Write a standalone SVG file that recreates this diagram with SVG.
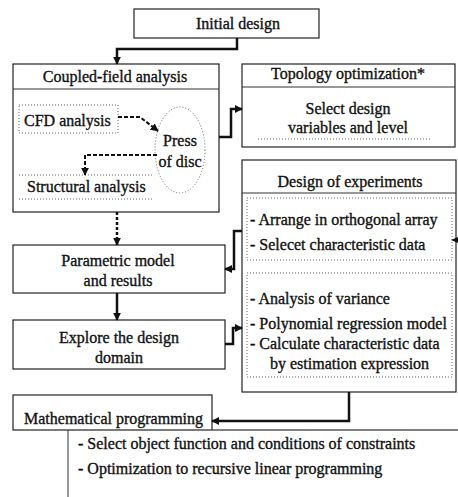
<svg xmlns="http://www.w3.org/2000/svg" width="458" height="497" viewBox="0 0 458 497">
<style>
text{font-family:"Liberation Serif","Times New Roman",serif;font-size:16px;fill:#111;stroke:#111;stroke-width:0.35}
.box{fill:#fff;stroke:#222;stroke-width:1.2}
.thin{fill:none;stroke:#333;stroke-width:1}
.dot{fill:none;stroke:#666;stroke-width:1;stroke-dasharray:1 2}
.conn{fill:none;stroke:#111;stroke-width:2.5}
.dash{fill:none;stroke:#111;stroke-width:2;stroke-dasharray:4 2}
.dotc{fill:none;stroke:#111;stroke-width:2.5;stroke-dasharray:3 2}
.gray{fill:none;stroke:#555;stroke-width:1.3}
.mid{text-anchor:middle}
</style>
<defs>
<marker id="ah" viewBox="0 0 10 10" refX="9" refY="5" markerWidth="8" markerHeight="8" markerUnits="userSpaceOnUse" orient="auto">
<path d="M0,0 L10,5 L0,10 z" fill="#111"/>
</marker>
</defs>

<g id="initial">
<rect class="box" x="134" y="9" width="185" height="29"/>
<text x="196" y="29">Initial design</text>
</g>

<g id="coupled">
<rect class="box" x="13" y="64" width="206" height="148"/>
<line class="thin" x1="13" y1="89" x2="219" y2="89"/>
<text class="mid" x="115" y="82">Coupled-field analysis</text>
<rect class="dot" x="19" y="105" width="99" height="28"/>
<text x="24" y="126">CFD analysis</text>
<ellipse class="dot" cx="180" cy="150" rx="25" ry="43"/>
<text class="mid" x="180" y="146">Press</text>
<text class="mid" x="180" y="167">of disc</text>
<line class="dot" x1="19" y1="175" x2="152" y2="175"/>
<text x="27" y="192">Structural analysis</text>
<line class="dot" x1="19" y1="199" x2="152" y2="199"/>
</g>

<g id="topology">
<rect class="box" x="242" y="64" width="213" height="83"/>
<line class="thin" x1="242" y1="87" x2="455" y2="87"/>
<text class="mid" x="348" y="79">Topology optimization*</text>
<text class="mid" x="348" y="114">Select design</text>
<text class="mid" x="348" y="133">variables and level</text>
<line class="dot" x1="258" y1="139" x2="432" y2="139"/>
</g>

<g id="doe">
<rect class="box" x="242" y="160" width="214" height="232"/>
<line class="thin" x1="242" y1="193" x2="456" y2="193"/>
<text class="mid" x="350" y="187">Design of experiments</text>
<rect class="dot" x="247" y="198" width="205" height="62"/>
<text x="250" y="225">- Arrange in orthogonal array</text>
<text x="250" y="250">- Selecet characteristic data</text>
<rect class="dot" x="247" y="273" width="205" height="104"/>
<text x="250" y="304">- Analysis of variance</text>
<text x="250" y="329">- Polynomial regression model</text>
<text x="250" y="349">- Calculate characteristic data</text>
<text x="270" y="369">by estimation expression</text>
</g>

<g id="parametric">
<rect class="box" x="13" y="245" width="212" height="48"/>
<text class="mid" x="118" y="266">Parametric model</text>
<text class="mid" x="118" y="286">and results</text>
</g>

<g id="explore">
<rect class="box" x="13" y="320" width="212" height="49"/>
<text class="mid" x="119" y="343">Explore the design</text>
<text class="mid" x="119" y="363">domain</text>
</g>

<g id="math">
<rect class="box" x="13" y="395" width="199" height="35"/>
<text x="24" y="424">Mathematical programming</text>
<line class="gray" x1="212" y1="430" x2="458" y2="430"/>
<line class="thin" x1="68" y1="430" x2="68" y2="497"/>
<text x="78" y="449">- Select object function and conditions of constraints</text>
<text x="78" y="474">- Optimization to recursive linear programming</text>
</g>

<g id="connectors">
<path class="conn" d="M237,38 V49 H117 V64" marker-end="url(#ah)"/>
<path class="conn" d="M219,137 H231 V109 H242" marker-end="url(#ah)"/>
<path class="dash" d="M118,117 H140 L158,131" marker-end="url(#ah)"/>
<path class="dash" d="M157,155 H85 V175" marker-end="url(#ah)"/>
<path class="dotc" d="M117,212 V245" marker-end="url(#ah)"/>
<path class="conn" d="M117,293 V320" marker-end="url(#ah)"/>
<path class="conn" d="M242,231 H234 V269 H225" marker-end="url(#ah)"/>
<path class="conn" d="M225,344 H233 V328 H242" marker-end="url(#ah)"/>
<path class="conn" d="M349,392 V421 H212" marker-end="url(#ah)"/>
<path d="M451,240 L458,237 L458,243 z" fill="#111"/>
</g>
</svg>
